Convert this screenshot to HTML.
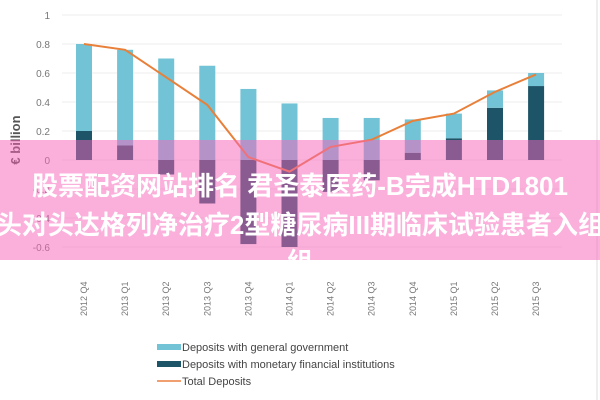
<!DOCTYPE html>
<html><head><meta charset="utf-8"><style>
body{margin:0;width:600px;height:400px;overflow:hidden;background:#fff;font-family:"Liberation Sans","Noto Sans CJK SC",sans-serif;}
#wrap{position:relative;width:600px;height:400px;overflow:hidden;}
#band{position:absolute;left:0;top:140px;width:600px;height:120px;background:rgba(247,97,185,0.5);}
.t{position:absolute;left:-100px;width:800px;text-align:center;color:#fff;font-weight:bold;font-size:26px;white-space:nowrap;font-family:"Liberation Sans","Noto Sans CJK SC",sans-serif;}
</style></head><body>
<div id="wrap">
<svg id="chart" width="600" height="400"></svg>
<div id="band"></div>
<div class="t" style="top:166px">股票配资网站排名 君圣泰医药-B完成HTD1801</div>
<div class="t" style="top:205px">头对头达格列净治疗2型糖尿病III期临床试验患者入组</div>
<div class="t" style="top:242px">组</div>
</div>
<script>
const categories=["2012 Q4","2013 Q1","2013 Q2","2013 Q3","2013 Q4","2014 Q1","2014 Q2","2014 Q3","2014 Q4","2015 Q1","2015 Q2","2015 Q3"];
const govDeposits=[0.6,0.66,0.7,0.65,0.49,0.39,0.29,0.29,0.23,0.17,0.12,0.09];
const mfiDeposits=[0.2,0.1,-0.1,-0.3,-0.58,-0.6,-0.22,-0.14,0.05,0.15,0.36,0.51];
const totalDeposits=[0.8,0.76,0.57,0.38,0.02,-0.08,0.09,0.14,0.27,0.32,0.47,0.59];
const yTicks=[1,0.8,0.6,0.4,0.2,0,-0.2,-0.4,-0.6];
const yTickLabels=["1","0.8","0.6","0.4","0.2","0","-0.2","-0.4","-0.6"];
const NS="http://www.w3.org/2000/svg";
const svg=document.getElementById('chart');
const y=v=>160-v*145;
const x=i=>84+i*41.1;
const bw=16;
function mk(t,a){const e=document.createElementNS(NS,t);for(const k in a)e.setAttribute(k,a[k]);svg.appendChild(e);return e;}
yTicks.forEach((v,i)=>{
 const g=mk('line',{x1:62,x2:562,y1:y(v),y2:y(v),stroke:'#eeeeee','stroke-width':1});
 
 
 const t=mk('text',{x:50,y:y(v)+4,'text-anchor':'end','font-size':10,fill:'#777'});
 t.textContent=yTickLabels[i];
 
 
});
const yt=mk('text',{x:0,y:0,transform:'translate(20,140) rotate(-90)','text-anchor':'middle','font-size':13,'font-weight':'bold',fill:'#555'});
yt.textContent='€ billion';


mk('line',{x1:597,x2:597,y1:0,y2:400,stroke:'#ddd'});
categories.forEach((c,i)=>{
 const d=mfiDeposits[i],g=govDeposits[i];
 const base=d>0?d:0;
 const r1=mk('rect',{x:x(i)-bw/2,y:Math.min(y(0),y(d)),width:bw,height:Math.abs(y(d)-y(0)),fill:'#1d5468'});
 
 
 const r2=mk('rect',{x:x(i)-bw/2,y:y(base+g),width:bw,height:y(base)-y(base+g),fill:'#72c3d5'});
 
 
 const t=mk('text',{x:0,y:0,transform:`translate(${x(i)+3},316) rotate(-90)`,'font-size':9,fill:'#777'});
 t.textContent=c;
 
 
});
const pl=mk('polyline',{points:totalDeposits.map((v,i)=>x(i)+','+y(v)).join(' '),fill:'none',stroke:'#e8803a','stroke-width':2});


const leg=[['rect','#72c3d5','Deposits with general government'],['rect','#1d5468','Deposits with monetary financial institutions'],['line','#f0a070','Total Deposits']];
leg.forEach((l,i)=>{
 const yy=347+i*17;
 if(l[0]==='rect'){const r=mk('rect',{x:157,y:yy-3,width:24,height:6,fill:l[1]});}
 else{const r=mk('line',{x1:157,x2:181,y1:yy,y2:yy,stroke:l[1],'stroke-width':2});}
 const t=mk('text',{x:182,y:yy+4,'font-size':11,fill:'#444'});
 t.textContent=l[2];
 
 
});
</script>
</body></html>
